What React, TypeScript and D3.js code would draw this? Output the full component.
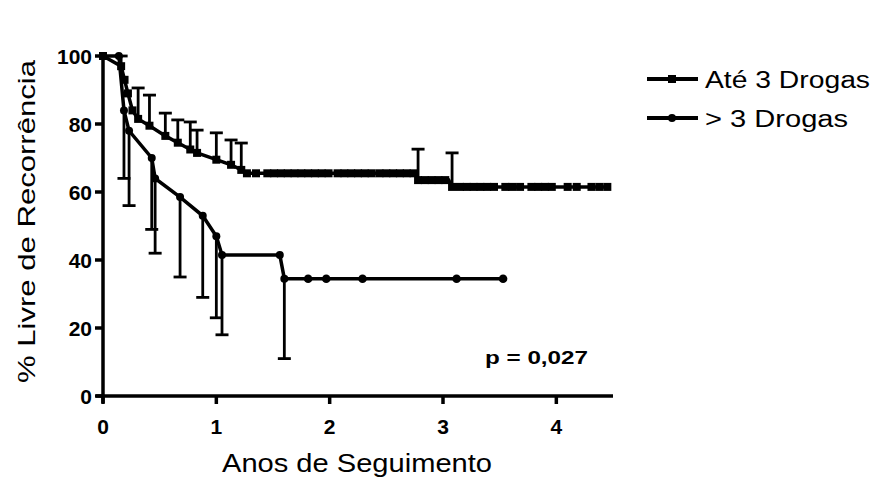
import React from 'react';
import * as d3 from 'd3';

// "Até 3 Drogas" — event points, survival %, upper error limit (null = none)
const timeA = [0, 0.16, 0.19, 0.22, 0.26, 0.31, 0.41, 0.55, 0.66, 0.77, 0.83, 1.0, 1.13, 1.22, 1.27, 2.78, 3.08];
const survA = [100, 97, 93, 89, 84, 81.5, 79.5, 76.5, 74.5, 72.5, 71.5, 69.5, 68, 66.5, 65.5, 63.5, 61.5];
const upperA = [null, 100, null, null, null, 90.6, 88.5, 83.2, 81.2, 80.6, 78.2, 77.4, 75.3, 74.4, null, 72.6, 71.5];
const censorTimeA = [1.35, 1.45, 1.51, 1.57, 1.63, 1.69, 1.75, 1.81, 1.87, 1.93, 1.99, 2.07, 2.13, 2.19, 2.25, 2.31, 2.37, 2.44, 2.5, 2.56, 2.62, 2.68, 2.74,
  2.84, 2.9, 2.96, 3.02, 3.15, 3.21, 3.27, 3.33, 3.39, 3.45, 3.55, 3.61, 3.68, 3.78, 3.84, 3.9, 3.96, 4.1, 4.18, 4.31, 4.38, 4.45];
const censorSurvA = [65.5, 65.5, 65.5, 65.5, 65.5, 65.5, 65.5, 65.5, 65.5, 65.5, 65.5, 65.5, 65.5, 65.5, 65.5, 65.5, 65.5, 65.5, 65.5, 65.5, 65.5, 65.5, 65.5,
  63.5, 63.5, 63.5, 63.5, 61.5, 61.5, 61.5, 61.5, 61.5, 61.5, 61.5, 61.5, 61.5, 61.5, 61.5, 61.5, 61.5, 61.5, 61.5, 61.5, 61.5, 61.5];

// "> 3 Drogas" — lower error limit (null = none)
const timeB = [0, 0.14, 0.185, 0.23, 0.43, 0.46, 0.68, 0.88, 1.0, 1.05, 1.56, 1.6];
const survB = [100, 100, 84, 78, 70, 64, 58.5, 53, 47, 41.5, 41.5, 34.5];
const lowerB = [null, null, 64, 56, 49, 42, 35, 29, 23, 18, null, 11];
const censorTimeB = [1.81, 1.97, 2.29, 3.12, 3.53];
const censorSurvB = [34.5, 34.5, 34.5, 34.5, 34.5];

const xTicks = [0, 1, 2, 3, 4];
const yTicks = [0, 20, 40, 60, 80, 100];
const legendLabels = ['Até 3 Drogas', '> 3 Drogas'];
const pLabel = 'p = 0,027';

const W = 886;
const H = 497;
const font = '"Liberation Sans", Arial, sans-serif';

const App = () => {
  const x = d3.scaleLinear().domain([0, 4.5]).range([103, 613]);
  const y = d3.scaleLinear().domain([0, 100]).range([396, 56]);

  const line = d3.line<[number, number]>()
    .x(d => x(d[0]))
    .y(d => y(d[1]));

  const ptsA: [number, number][] = timeA.map((t, i) => [t, survA[i]]);
  const lastA = censorTimeA[censorTimeA.length - 1];
  const pathA = line([...ptsA.slice(0, 15), [2.76, 65.5], ptsA[15], [3.05, 63.5], ptsA[16], [lastA, 61.5]]);
  const ptsB: [number, number][] = timeB.map((t, i) => [t, survB[i]]);
  const pathB = line([...ptsB, [censorTimeB[censorTimeB.length - 1], 34.5]]);

  return (
    <svg width={W} height={H} style={{ position: 'absolute', left: 0, top: 0 }}>
      <rect width={W} height={H} fill="#fff" />

      {/* error bars group A (up) */}
      {timeA.map((t, i) => upperA[i] == null ? null : (
        <g key={'ea' + i} stroke="#000" strokeWidth={2.8}>
          <line x1={x(t)} x2={x(t)} y1={y(survA[i])} y2={y(upperA[i] as number)} />
          <line x1={x(t) - 6.5} x2={x(t) + 6.5} y1={y(upperA[i] as number)} y2={y(upperA[i] as number)} />
        </g>
      ))}
      {/* error bars group B (down) */}
      {timeB.map((t, i) => lowerB[i] == null ? null : (
        <g key={'eb' + i} stroke="#000" strokeWidth={2.8}>
          <line x1={x(t)} x2={x(t)} y1={y(survB[i])} y2={y(lowerB[i] as number)} />
          <line x1={x(t) - 6.5} x2={x(t) + 6.5} y1={y(lowerB[i] as number)} y2={y(lowerB[i] as number)} />
        </g>
      ))}

      <path d={pathA ?? ''} fill="none" stroke="#000" strokeWidth={3.5} />
      <path d={pathB ?? ''} fill="none" stroke="#000" strokeWidth={3.5} />

      {ptsA.map((p, i) => (
        <rect key={'pa' + i} x={x(p[0]) - 4} y={y(p[1]) - 4} width={8} height={8} fill="#000" />
      ))}
      {censorTimeA.map((t, i) => (
        <rect key={'ca' + i} x={x(t) - 4} y={y(censorSurvA[i]) - 4} width={8} height={8} fill="#000" />
      ))}
      {ptsB.map((p, i) => (
        <circle key={'pb' + i} cx={x(p[0])} cy={y(p[1])} r={4} fill="#000" />
      ))}
      {censorTimeB.map((t, i) => (
        <circle key={'cb' + i} cx={x(t)} cy={y(censorSurvB[i])} r={4.3} fill="#000" />
      ))}

      {/* axes */}
      <line x1={103} x2={103} y1={54} y2={403} stroke="#000" strokeWidth={3.5} />
      <line x1={96} x2={613} y1={396} y2={396} stroke="#000" strokeWidth={3.5} />
      {yTicks.map(v => (
        <g key={'yt' + v}>
          <line x1={95} x2={103} y1={y(v)} y2={y(v)} stroke="#000" strokeWidth={3.5} />
          <text x={92} y={y(v) + 7.5} textAnchor="end" fontFamily={font} fontWeight="bold" fontSize={21}>{v}</text>
        </g>
      ))}
      {xTicks.map(v => (
        <g key={'xt' + v}>
          <line x1={x(v)} x2={x(v)} y1={396} y2={404} stroke="#000" strokeWidth={3.5} />
          <text x={x(v)} y={434} textAnchor="middle" fontFamily={font} fontWeight="bold" fontSize={21}>{v}</text>
        </g>
      ))}

      <text x={222} y={472} textLength={270} lengthAdjust="spacingAndGlyphs" fontFamily={font} fontSize={25}>Anos de Seguimento</text>
      <text transform="translate(35,383) rotate(-90)" textLength={323} lengthAdjust="spacingAndGlyphs" fontFamily={font} fontSize={24}>% Livre de Recorrência</text>

      <text x={485} y={364} textLength={103} lengthAdjust="spacingAndGlyphs" fontFamily={font} fontWeight="bold" fontSize={19}>{pLabel}</text>

      {/* legend */}
      {legendLabels.map((lab, i) => {
        const ly = 79 + i * 39;
        return (
          <g key={'lg' + i}>
            <line x1={647} x2={698} y1={ly} y2={ly} stroke="#000" strokeWidth={4} />
            {i === 0
              ? <rect x={668} y={ly - 4} width={8} height={8} fill="#000" />
              : <circle cx={672} cy={ly} r={4} fill="#000" />}
            <text x={705} y={ly + 9} textLength={i === 0 ? 165 : 143} lengthAdjust="spacingAndGlyphs" fontFamily={font} fontSize={23}>{lab}</text>
          </g>
        );
      })}
    </svg>
  );
};

export default App;
